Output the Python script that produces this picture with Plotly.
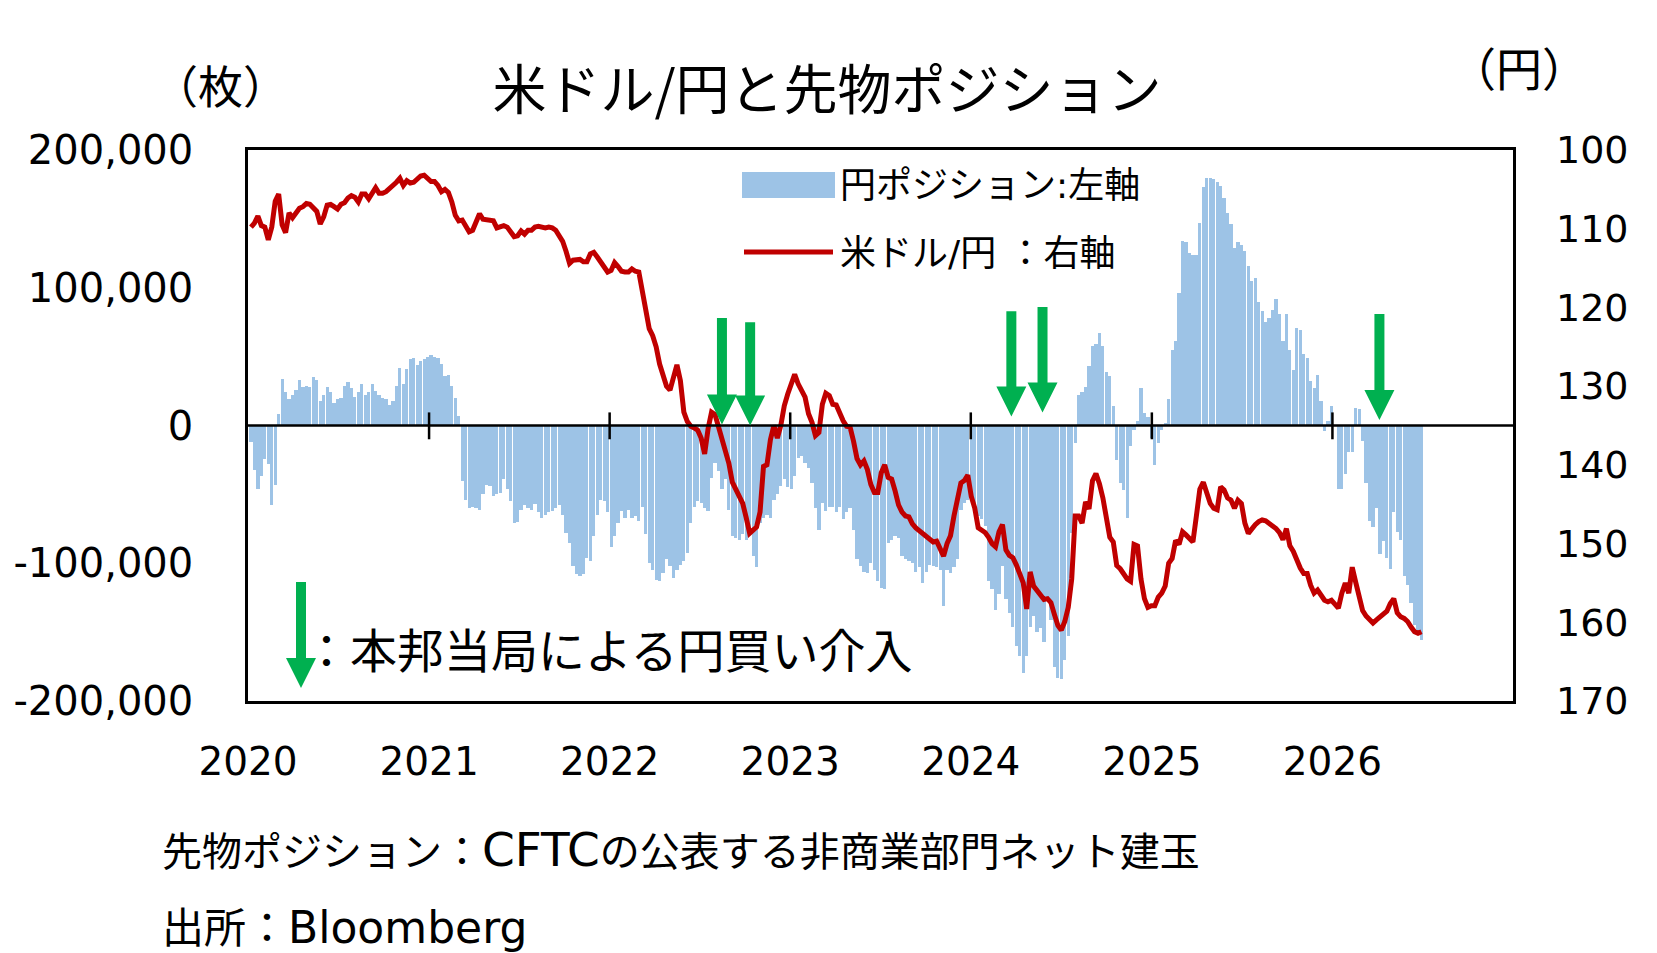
import pandas as pd
import plotly.graph_objects as go

# ---------------- data (weekly) ----------------
# 円ポジション (CFTC 非商業部門ネット, 千枚)
pos_2020 = [-12, -32, -46, -37, -24, -28, -58, -43, 8, 34, 24, 19, 22.5, 26, 33, 28, 28.5, 28, 35, 33,
            18, 22.5, 28, 24, 16.5, 19, 20, 28.5, 31.5, 27, 21, 24, 30, 22.5, 24, 30, 25, 22, 20, 19,
            15, 18, 28.5, 42, 30, 41, 48, 49, 44, 47, 48, 50]
pos_2021 = [51, 50, 49, 45, 36, 37, 28.5, 20, 7, -40, -54, -60, -59, -60, -61, -50, -43, -44, -51, -50,
            -49, -39, -46, -55, -71, -70, -61, -58, -60, -61, -57, -63, -67, -65, -63, -62, -60, -58, -65, -78,
            -85, -102, -108, -109, -108, -96, -98.5, -80, -65, -54, -55, -63]
pos_2022 = [-88, -80, -71, -62, -67, -61, -67, -66, -69, -59, -79, -100, -105, -112, -113, -107, -97, -102, -111, -105,
            -101, -98.5, -92.5, -71, -59, -55, -56, -60, -62, -38, -27, -33, -46, -39, -61, -80, -82, -83, -79, -83,
            -75.5, -95, -103, -71, -67.5, -65, -67.5, -54, -50, -44, -39, -45]
pos_2023 = [-46, -37, -23.5, -22, -27, -31, -42, -60, -75.5, -56, -62, -59, -59, -63, -59, -68, -63, -60, -75.5, -97,
            -102, -106, -107, -100, -105, -113, -118, -119, -85, -83, -80, -81.5, -95, -97, -98.5, -100, -106, -103, -114, -106,
            -101, -102, -103, -105, -131, -105, -107, -103, -97, -61, -56, -54]
pos_2024 = [-49, -56, -66, -68, -73, -113, -119, -134, -122, -102, -126, -136, -146, -160, -167, -180, -167, -146, -138, -150,
            -147, -157, -126, -141, -175, -183, -184, -170, -153, -78, -13, 22.5, 24, 28, 43, 58, 59, 67, 58, 39,
            36, 14, -25, -42, -47, -67, -15, -3, 3, 27, 9, 6, -9]
pos_2025 = [-29, -13, -3, 2, 19, 55, 61, 96, 134, 133, 125, 124, 124, 147, 173, 180, 180, 179, 177, 174,
            165, 154, 146, 129, 133, 131, 127, 116, 105, 107, 90, 83, 75.5, 78, 84, 92, 81, 61, 81, 55,
            40, 71, 69, 52, 49, 32, 27, 37, 18, -4, 3, 14]
pos_2026 = [0, -46, -46, -35, -19, -19, 13, 12, -11.5, -42, -69, -74, -60, -93, -84, -96, -104, -63, -77, -83,
            -109, -116, -129, -145, -152, -156]

# 米ドル/円 (円)
usdjpy_2020 = [109.8, 109.3, 108.4, 109.6, 109.8, 111.4, 109.8, 106.5, 105.6, 109.5, 110.5, 108.0, 108.6, 108.0, 107.4,
               107.2, 106.8, 106.9, 107.3, 107.8, 109.4, 108.5, 107.0, 106.9, 107.2, 107.5, 106.9, 106.7, 106.1, 105.8,
               106.0, 106.6, 105.6, 105.6, 106.2, 105.6, 104.8, 105.5, 105.5, 105.3, 104.9, 104.7, 104.1, 103.6, 104.5,
               103.9, 104.2, 104.1, 103.6, 103.3, 103.2, 103.6]
usdjpy_2021 = [104.0, 104.0, 104.5, 105.3, 105.0, 105.4, 106.6, 108.3, 109.0, 108.9, 109.7, 110.4, 110.2, 109.2, 108.1,
               108.8, 108.9, 109.0, 109.0, 109.9, 109.7, 109.6, 109.8, 110.4, 111.0, 110.9, 110.3, 110.7, 110.2, 110.2,
               109.8, 109.7, 109.8, 109.9, 109.8, 109.9, 110.2, 110.8, 111.6, 112.9, 114.4, 114.0, 114.0, 113.9, 114.2,
               114.2, 113.2, 113.0, 113.6, 114.2, 114.8, 115.5]
usdjpy_2022 = [115.3, 114.3, 114.8, 115.4, 115.5, 115.5, 115.1, 115.4, 115.5, 118.0, 120.5, 122.7, 123.6, 125.0, 127.2,
               128.7, 130.0, 130.5, 128.8, 127.3, 129.3, 133.3, 134.5, 135.1, 135.3, 135.6, 136.6, 138.6, 135.4, 133.3,
               133.6, 135.2, 136.8, 138.0, 139.8, 142.2, 143.2, 144.1, 144.9, 146.7, 148.7, 148.3, 147.9, 146.0, 140.2,
               140.0, 136.8, 135.0, 136.6, 135.0, 132.5, 131.0]
usdjpy_2023 = [129.5, 128.5, 129.7, 130.5, 131.4, 133.5, 134.6, 136.3, 135.9, 132.3, 130.9, 131.2, 132.3, 132.4, 133.6,
               134.4, 135.1, 135.2, 137.0, 139.2, 140.0, 139.5, 140.6, 142.5, 143.5, 143.5, 141.0, 140.0, 141.6, 141.8,
               143.3, 145.1, 146.0, 146.5, 146.6, 147.5, 148.0, 148.4, 148.8, 149.2, 149.5, 149.8, 149.7, 150.5, 151.6,
               150.0, 149.0, 146.5, 144.2, 142.3, 142.0, 141.3]
usdjpy_2024 = [144.0, 145.5, 148.0, 148.3, 148.6, 149.2, 150.0, 150.4, 148.5, 147.6, 150.8, 151.5, 151.8, 152.7, 154.0,
               155.0, 158.3, 153.6, 155.4, 155.9, 156.4, 157.1, 157.0, 157.5, 159.0, 160.4, 161.0, 159.9, 158.1, 154.5,
               146.5, 146.5, 147.4, 144.7, 145.6, 142.0, 141.1, 142.4, 144.2, 146.5, 149.2, 149.8, 152.8, 153.2, 153.9,
               154.5, 154.8, 150.1, 150.3, 154.5, 157.0, 158.1, 157.9]
usdjpy_2025 = [157.9, 156.8, 156.3, 155.4, 152.5, 151.9, 149.6, 150.1, 148.5, 148.9, 149.4, 149.8, 146.5, 143.1, 142.2,
               143.6, 144.9, 145.5, 145.7, 142.8, 143.2, 144.2, 144.5, 145.5, 144.5, 144.9, 147.4, 148.7, 148.0, 147.6,
               147.2, 147.0, 147.1, 147.4, 147.8, 148.1, 148.6, 149.5, 148.1, 150.3, 151.0, 152.1, 153.1, 153.8, 153.8,
               155.3, 156.3, 155.9, 156.7, 157.2, 157.4, 157.2]
usdjpy_2026 = [157.7, 158.2, 156.3, 155.0, 156.3, 153.0, 154.9, 156.6, 158.5, 159.2, 159.7, 160.1, 159.7, 159.3, 159.1,
               158.6, 157.6, 157.0, 158.8, 159.3, 159.5, 159.9, 160.6, 161.2, 161.4, 161.2]

first_week = "2020-01-07"
year_labels = ["2020", "2021", "2022", "2023", "2024", "2025", "2026"]
left_tickvals = [-200000, -100000, 0, 100000, 200000]
left_ticktext = ["-200,000", "-100,000", "0", "100,000", "200,000"]
right_tickvals = [100, 110, 120, 130, 140, 150, 160, 170]

# 本邦当局による円買い介入 (arrow positions as drawn in the chart)
intervention_dates = ["2022-08-16", "2022-10-12", "2024-03-23", "2024-05-25", "2026-04-06"]
arrow_top = [78000, 75000, 83000, 86000, 81000]
arrow_tip = [700, 0, 6500, 9400, 4000]

# ---------------- build ----------------
positions_k = pos_2020 + pos_2021 + pos_2022 + pos_2023 + pos_2024 + pos_2025 + pos_2026
positions = [v * 1000 for v in positions_k]
usdjpy = usdjpy_2020 + usdjpy_2021 + usdjpy_2022 + usdjpy_2023 + usdjpy_2024 + usdjpy_2025 + usdjpy_2026
dates_pos = pd.date_range(first_week, periods=len(positions), freq="7D")
dates_fx = pd.date_range(first_week, periods=len(usdjpy), freq="7D")

X0 = pd.Timestamp("2020-01-01")
X1 = pd.Timestamp("2027-01-01")
PW, PH = 1265, 551  # plot area size in px
ML, MT = 248, 150

JP = "Noto Sans CJK JP"
MIX = "DejaVu Sans, Noto Sans CJK JP"
GREEN = "#00B050"
RED = "#C00000"
BLUE = "#9DC3E6"

fig = go.Figure()
fig.add_trace(go.Bar(
    x=dates_pos, y=positions, name="円ポジション:左軸",
    marker=dict(color=BLUE, line=dict(width=0)),
    width=7 * 86400000 * 0.93, yaxis="y", showlegend=False,
))
fig.add_trace(go.Scatter(
    x=dates_fx, y=usdjpy, name="米ドル/円 ：右軸", mode="lines",
    line=dict(color=RED, width=5), yaxis="y2", showlegend=False,
))


def xp(d):
    return (pd.Timestamp(d) - X0) / (X1 - X0)


def yp(v):
    return (v + 200000) / 400000


def px_x(ax):  # absolute px -> paper
    return (ax - ML) / PW


def px_y(ay):
    return (MT + PH - ay) / PH


def arrow_path(xc, ytop, ytip):
    sw, hw = 5 / PW, 15 / PW
    yh = ytip + 30 / PH
    return (f"M {xc - sw},{ytop} L {xc + sw},{ytop} L {xc + sw},{yh} L {xc + hw},{yh} "
            f"L {xc},{ytip} L {xc - hw},{yh} L {xc - sw},{yh} Z")


shapes = []
# zero line
shapes.append(dict(type="line", xref="paper", yref="y", x0=0, x1=1, y0=0, y1=0,
                   line=dict(color="black", width=2.5), layer="above"))
# year tick marks crossing the zero line
for y in year_labels[1:]:
    shapes.append(dict(type="line", xref="x", yref="y", x0=f"{y}-01-01", x1=f"{y}-01-01",
                       y0=-10000, y1=9500, line=dict(color="black", width=2.5), layer="above"))
# intervention arrows
for d, t, p in zip(intervention_dates, arrow_top, arrow_tip):
    shapes.append(dict(type="path", xref="paper", yref="paper",
                       path=arrow_path(xp(d), yp(t), yp(p)),
                       fillcolor=GREEN, line=dict(width=0), layer="above"))
# arrow in the note
shapes.append(dict(type="path", xref="paper", yref="paper",
                   path=arrow_path(px_x(301), px_y(582), px_y(688)),
                   fillcolor=GREEN, line=dict(width=0), layer="above"))
# manual legend
shapes.append(dict(type="rect", xref="paper", yref="paper",
                   x0=px_x(742), x1=px_x(835), y0=px_y(198), y1=px_y(172),
                   fillcolor=BLUE, line=dict(width=0), layer="above"))
shapes.append(dict(type="line", xref="paper", yref="paper",
                   x0=px_x(744), x1=px_x(833), y0=px_y(252), y1=px_y(252),
                   line=dict(color=RED, width=5), layer="above"))

annotations = [
    dict(text="（枚）", xref="paper", yref="paper", x=px_x(220), y=px_y(85),
         xanchor="center", yanchor="middle", showarrow=False, font=dict(family=JP, size=45, color="black")),
    dict(text="（円）", xref="paper", yref="paper", x=px_x(1519), y=px_y(66),
         xanchor="center", yanchor="middle", showarrow=False, font=dict(family=JP, size=46, color="black")),
    dict(text="円ポジション:左軸", xref="paper", yref="paper", x=px_x(838), y=px_y(185),
         xanchor="left", yanchor="middle", showarrow=False, font=dict(family=MIX, size=36, color="black")),
    dict(text="米ドル/円 ：右軸", xref="paper", yref="paper", x=px_x(838), y=px_y(253),
         xanchor="left", yanchor="middle", showarrow=False, font=dict(family=MIX, size=36, color="black")),
    dict(text="：本邦当局による円買い介入", xref="paper", yref="paper", x=px_x(301), y=px_y(647),
         xanchor="left", yanchor="middle", showarrow=False, font=dict(family=JP, size=47, color="black")),
    dict(text='先物ポジション：<span style="font-size:47px">CFTC</span>の公表する非商業部門ネット建玉',
         xref="paper", yref="paper",
         x=px_x(160), y=px_y(849), xanchor="left", yanchor="middle", showarrow=False,
         font=dict(family=MIX, size=40, color="black")),
    dict(text='出所：<span style="font-size:44px">Bloomberg</span>', xref="paper", yref="paper",
         x=px_x(160), y=px_y(927), xanchor="left", yanchor="middle", showarrow=False,
         font=dict(family=MIX, size=42, color="black")),
]

fig.update_layout(
    width=1657, height=953,
    margin=dict(l=ML, r=1657 - ML - PW, t=MT, b=953 - MT - PH, pad=0, autoexpand=False),
    paper_bgcolor="white", plot_bgcolor="white",
    bargap=0,
    title=dict(text="米ドル/円と先物ポジション", xref="container", yref="container",
               x=827 / 1657, y=1 - 91 / 953, xanchor="center", yanchor="middle",
               font=dict(family=JP, size=54, color="black")),
    xaxis=dict(type="date", range=[X0, X1], showline=True, mirror=True, linecolor="black", linewidth=2.5,
               ticks="", tickvals=[f"{y}-01-01" for y in year_labels], ticktext=year_labels,
               tickfont=dict(family="DejaVu Sans", size=39, color="black"), automargin=False,
               showgrid=False, zeroline=False, ticklabelstandoff=24),
    yaxis=dict(range=[-200000, 200000], tickvals=left_tickvals, ticktext=left_ticktext,
               showline=True, mirror=True, linecolor="black", linewidth=2.5, ticks="",
               tickfont=dict(family="DejaVu Sans", size=40, color="black"), automargin=False,
               showgrid=False, zeroline=False, ticklabelstandoff=44),
    yaxis2=dict(overlaying="y", side="right", range=[170, 100], tickvals=right_tickvals,
                ticks="", showline=False, showgrid=False, zeroline=False, automargin=False,
                tickfont=dict(family="DejaVu Sans", size=38, color="black"), ticklabelstandoff=42),
    shapes=shapes,
    annotations=annotations,
)

fig.write_html("out.html")
